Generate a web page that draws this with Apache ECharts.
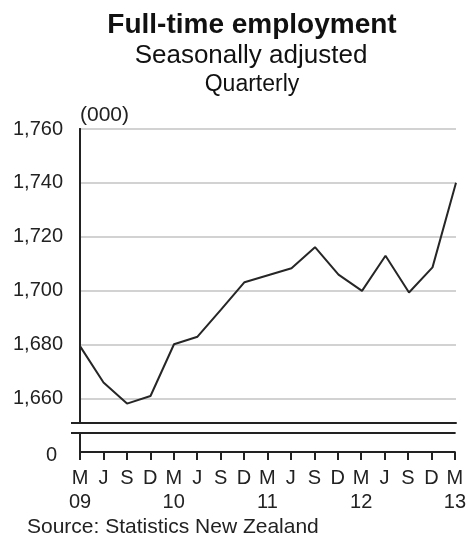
<!DOCTYPE html>
<html>
<head>
<meta charset="utf-8">
<script src="https://cdn.jsdelivr.net/npm/echarts@6/dist/echarts.min.js"></script>
<style>
  html, body { margin: 0; padding: 0; background: #fff; }
  #chart { width: 469px; height: 535px; }
</style>
</head>
<body>
<div id="chart"></div>
<script>
// Quarterly full-time employment, seasonally adjusted (thousands)
const quarters = ['M\n09', 'J', 'S', 'D', 'M\n10', 'J', 'S', 'D', 'M\n11', 'J', 'S', 'D', 'M\n12', 'J', 'S', 'D', 'M\n13'];
const employment = [1679.5, 1666, 1658.2, 1661, 1680.2, 1683, 1693, 1703.2, 1705.8, 1708.4, 1716.2, 1706, 1700, 1713, 1699.4, 1708.7, 1740.1];
const yTicks = [1660, 1680, 1700, 1720, 1740, 1760];
const yMin = 1651;
const yMax = 1760;

const FONT = "'Liberation Sans', Arial, sans-serif";
const INK = '#222';

const withComma = v => String(v).replace(/\B(?=(\d{3})+(?!\d))/g, ',');

const chart = echarts.init(document.getElementById('chart'), null, { renderer: 'canvas' });

const axisLine = { show: true, onZero: false, lineStyle: { color: INK, width: 2 } };
const stubTick = { show: true, length: 9, lineStyle: { color: INK, width: 2 } };

chart.setOption({
  animation: false,
  backgroundColor: '#fff',
  textStyle: { fontFamily: FONT },
  graphic: [
    { type: 'text', x: 252, y: 25, style: { text: 'Full-time employment', fill: '#111', font: "bold 28px " + FONT, textAlign: 'center', textVerticalAlign: 'middle' } },
    { type: 'text', x: 251, y: 56, style: { text: 'Seasonally adjusted', fill: '#111', font: "26px " + FONT, textAlign: 'center', textVerticalAlign: 'middle' } },
    { type: 'text', x: 252, y: 85, style: { text: 'Quarterly', fill: '#111', font: "23px " + FONT, textAlign: 'center', textVerticalAlign: 'middle' } },
    { type: 'text', x: 80, y: 115, style: { text: '(000)', fill: INK, font: "21px " + FONT, textAlign: 'left', textVerticalAlign: 'middle' } },
    { type: 'text', x: 27, y: 527, style: { text: 'Source: Statistics New Zealand', fill: INK, font: "21px " + FONT, textAlign: 'left', textVerticalAlign: 'middle' } }
  ],
  grid: [
    { left: 80, right: 13, top: 129, height: 294 },
    { left: 80, right: 13, top: 433, height: 19 }
  ],
  xAxis: [
    {
      gridIndex: 0, type: 'category', boundaryGap: false, data: quarters,
      axisLine: axisLine, axisTick: { show: false }, axisLabel: { show: false }, splitLine: { show: false }
    },
    {
      gridIndex: 1, type: 'category', position: 'bottom', boundaryGap: false, data: quarters,
      axisLine: axisLine,
      axisTick: { show: true, interval: 0, length: 8, lineStyle: { color: INK, width: 2 } },
      axisLabel: { show: true, interval: 0, margin: 14, color: INK, fontSize: 20, lineHeight: 24, fontFamily: FONT },
      splitLine: { show: false }
    },
    {
      gridIndex: 1, type: 'category', position: 'top', boundaryGap: false, data: quarters,
      axisLine: axisLine, axisTick: { show: false }, axisLabel: { show: false }, splitLine: { show: false }
    }
  ],
  yAxis: [
    {
      gridIndex: 0, type: 'value', position: 'left', min: yMin, max: yMax,
      axisLine: axisLine,
      axisTick: { show: false, customValues: yTicks },
      axisLabel: { customValues: yTicks, formatter: withComma, margin: 17, color: INK, fontSize: 20, fontFamily: FONT },
      splitLine: { show: true, lineStyle: { color: '#d2d2d2', width: 2 } }
    },
    {
      // short stub at the lower edge of the broken axis
      gridIndex: 0, type: 'value', position: 'left', min: yMin, max: yMax,
      axisLine: axisLine,
      axisTick: Object.assign({ customValues: [yMin] }, stubTick),
      axisLabel: { show: false },
      splitLine: { show: false }
    },
    {
      gridIndex: 1, type: 'value', position: 'left', min: 0, max: 1,
      axisLine: axisLine,
      axisTick: Object.assign({ customValues: [1] }, stubTick),
      axisLabel: { customValues: [0], margin: 23, color: INK, fontSize: 20, fontFamily: FONT, verticalAlign: 'top', lineHeight: 6 },
      splitLine: { show: false }
    }
  ],
  series: [
    {
      type: 'line', xAxisIndex: 0, yAxisIndex: 0,
      data: employment,
      showSymbol: false, symbol: 'none',
      lineStyle: { color: '#262626', width: 2 },
      silent: true
    }
  ]
});
</script>
</body>
</html>
